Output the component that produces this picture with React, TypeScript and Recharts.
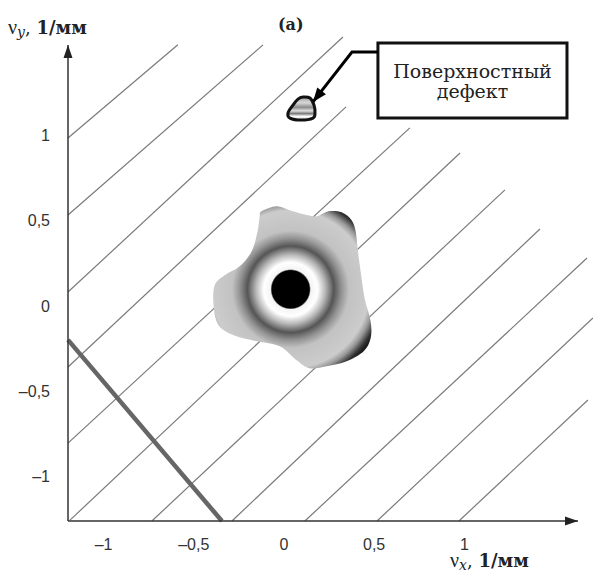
import React from 'react';
import { ScatterChart, XAxis, YAxis, Scatter, ReferenceLine, ReferenceArea } from 'recharts';

// axis ranges (ν, 1/мм)
const X_DOMAIN: [number, number] = [-1.197, 1.63];
const Y_DOMAIN: [number, number] = [-1.259, 1.527];
const xTicks = [-1, -0.5, 0, 0.5, 1];
const yTicks = [-1, -0.5, 0, 0.5, 1];

// diagonal fringe lines
const hatchLines = [
  { x1: -1.197, y1: 0.983, x2: -0.588, y2: 1.528 },
  { x1: -1.197, y1: 0.532, x2: -0.116, y2: 1.528 },
  { x1: -1.197, y1: 0.081, x2: 0.327, y2: 1.574 },
  { x1: -1.197, y1: -0.358, x2: 0.344, y2: 1.165 },
  { x1: -1.197, y1: -0.803, x2: 0.698, y2: 1.042 },
  { x1: -1.186, y1: -1.254, x2: 0.976, y2: 0.895 },
  { x1: -0.732, y1: -1.259, x2: 1.225, y2: 0.679 },
  { x1: -0.288, y1: -1.259, x2: 1.419, y2: 0.45 },
  { x1: 0.116, y1: -1.259, x2: 1.68, y2: 0.28 },
  { x1: 0.516, y1: -1.259, x2: 1.713, y2: -0.071 },
  { x1: 0.97, y1: -1.259, x2: 1.685, y2: -0.551 },
];

// thick gray line in the lower-left corner
const crossLine = { x1: -1.197, y1: -0.199, x2: -0.344, y2: -1.259 };

// spectrum centre and surface defect
const spectrum = [{ x: 0.037, y: 0.097 }];
const defects = [{ x: 0.1, y: 1.152 }];

// callout
const calloutBox = { x1: 0.521, x2: 1.569, y1: 1.1, y2: 1.539 };
const calloutPath = [
  { x: 0.521, y: 1.486 },
  { x: 0.377, y: 1.486 },
  { x: 0.161, y: 1.194 },
];
const calloutText = ['Поверхностный', 'дефект'];

// axis arrow tips
const axisTips = [
  { x: X_DOMAIN[1], y: Y_DOMAIN[0], dir: 'right' },
  { x: X_DOMAIN[0], y: Y_DOMAIN[1], dir: 'up' },
];

// outline of the spectrum blob, px offsets from its centre
const BLOB_OUTLINE: [number, number][] = [
  [-29, -78], [-14, -83], [-1, -79], [13, -75], [26, -73], [38, -78], [51, -77],
  [61, -69], [65, -58], [67, -41], [70, -18], [74, 9], [80, 32], [80, 49],
  [73, 62], [56, 72], [36, 77], [19, 79], [6, 71], [-11, 57], [-34, 52],
  [-57, 46], [-72, 36], [-77, 17], [-76, -4], [-66, -14], [-51, -23],
  [-39, -38], [-33, -58], [-31, -73],
];

const DEFECT_OUTLINE: [number, number][] = [
  [1, -12], [8, -11], [12, -4], [13, 4], [11, 9], [-1, 11], [-12, 9],
  [-14, 4], [-9, -4], [-4, -10],
];

const closedCurve = (pts: [number, number][]) => {
  const n = pts.length;
  let d = `M${pts[0][0]},${pts[0][1]}`;
  for (let i = 0; i < n; i++) {
    const p0 = pts[(i - 1 + n) % n];
    const p1 = pts[i];
    const p2 = pts[(i + 1) % n];
    const p3 = pts[(i + 2) % n];
    const c1x = p1[0] + (p2[0] - p0[0]) / 6;
    const c1y = p1[1] + (p2[1] - p0[1]) / 6;
    const c2x = p2[0] - (p3[0] - p1[0]) / 6;
    const c2y = p2[1] - (p3[1] - p1[1]) / 6;
    d += ` C${c1x},${c1y} ${c2x},${c2y} ${p2[0]},${p2[1]}`;
  }
  return d + 'Z';
};

const SpectrumShape = (props: any) => {
  const { cx, cy } = props;
  const d = closedCurve(BLOB_OUTLINE.map(([dx, dy]) => [cx + dx, cy + dy] as [number, number]));
  return (
    <g>
      <defs>
        <radialGradient id="specGrad" gradientUnits="userSpaceOnUse" cx={cx} cy={cy} r={96}>
          <stop offset="0" stopColor="#000" />
          <stop offset="0.195" stopColor="#000" />
          <stop offset="0.21" stopColor="#f4f4f4" />
          <stop offset="0.28" stopColor="#fff" />
          <stop offset="0.36" stopColor="#b8b8b8" />
          <stop offset="0.45" stopColor="#555" />
          <stop offset="0.53" stopColor="#939393" />
          <stop offset="0.61" stopColor="#c2c2c2" />
          <stop offset="0.82" stopColor="#cccccc" />
          <stop offset="0.88" stopColor="#999" />
          <stop offset="0.95" stopColor="#333" />
          <stop offset="1" stopColor="#111" />
        </radialGradient>
      </defs>
      <path d={d} fill="url(#specGrad)" />
    </g>
  );
};

const DefectShape = (props: any) => {
  const { cx, cy } = props;
  const d = closedCurve(DEFECT_OUTLINE.map(([dx, dy]) => [cx + dx, cy + dy] as [number, number]));
  return (
    <g>
      <defs>
        <linearGradient id="defGrad" x1="0" y1="0" x2="0" y2="1">
          <stop offset="0" stopColor="#9a9a9a" />
          <stop offset="0.25" stopColor="#d8d8d8" />
          <stop offset="0.45" stopColor="#8c8c8c" />
          <stop offset="0.6" stopColor="#e0e0e0" />
          <stop offset="0.72" stopColor="#7a7a7a" />
          <stop offset="0.84" stopColor="#fff" />
          <stop offset="1" stopColor="#ccc" />
        </linearGradient>
      </defs>
      <path d={d} fill="url(#defGrad)" stroke="#111" strokeWidth={3} />
    </g>
  );
};

const AxisTip = (props: any) => {
  const { cx, cy, payload } = props;
  const pts =
    payload.dir === 'right'
      ? `${cx},${cy} ${cx - 13},${cy - 4.5} ${cx - 13},${cy + 4.5}`
      : `${cx},${cy} ${cx - 4.5},${cy + 13} ${cx + 4.5},${cy + 13}`;
  return <polygon points={pts} fill="#222" />;
};

const CalloutTip = (props: any) => {
  const { cx, cy } = props;
  return (
    <polygon
      points={`${cx},${cy} ${cx - 14},${cy - 5.5} ${cx - 14},${cy + 5.5}`}
      fill="#000"
      transform={`rotate(128 ${cx} ${cy})`}
    />
  );
};

const renderCalloutLabel = (props: any) => {
  const { viewBox } = props;
  const cx = viewBox.x + viewBox.width / 2;
  const cy = viewBox.y + viewBox.height / 2;
  return (
    <text x={cx} y={cy} textAnchor="middle" fontFamily="DejaVu Serif" fontSize={19} fill="#222">
      <tspan x={cx} dy={-2.5}>{calloutText[0]}</tspan>
      <tspan x={cx} dy={20}>{calloutText[1]}</tspan>
    </text>
  );
};

const fmt = (v: number) => String(v).replace('.', ',').replace('-', '\u2013');

const tickStyle = { fontFamily: 'Liberation Sans', fontSize: 16, fill: '#333' };

const AxisTitle = ({ x, y, sub }: { x: number; y: number; sub: string }) => (
  <text x={x} y={y} fontFamily="DejaVu Serif" fontSize={18} fill="#222">
    <tspan fontFamily="Liberation Serif" fontSize={20}>ν</tspan>
    <tspan fontStyle="italic" fontSize={14} dy={3}>{sub}</tspan>
    <tspan dy={-3}>, </tspan>
    <tspan fontWeight="bold">1/мм</tspan>
  </text>
);

export default function App() {
  return (
    <div style={{ position: 'absolute', left: 0, top: 0, width: 593, height: 575, background: '#fff' }}>
      <ScatterChart width={593} height={575} margin={{ top: 45, right: 15, bottom: 24, left: 8 }}>
        <XAxis
          type="number"
          dataKey="x"
          domain={X_DOMAIN}
          ticks={xTicks}
          interval={0}
          tickFormatter={fmt}
          tick={tickStyle}
          tickLine={false}
          tickSize={0}
          tickMargin={18}
          height={30}
          axisLine={{ stroke: '#333', strokeWidth: 1.5 }}
        />
        <YAxis
          type="number"
          dataKey="y"
          domain={Y_DOMAIN}
          ticks={yTicks}
          interval={0}
          tickFormatter={fmt}
          tick={tickStyle}
          tickLine={false}
          tickSize={0}
          tickMargin={18}
          width={60}
          axisLine={{ stroke: '#333', strokeWidth: 1.5 }}
        />
        {hatchLines.map((l, i) => (
          <ReferenceLine
            key={i}
            segment={[{ x: l.x1, y: l.y1 }, { x: l.x2, y: l.y2 }]}
            stroke="#7a7a7a"
            strokeWidth={1.2}
            ifOverflow="visible"
          />
        ))}
        <ReferenceLine
          segment={[{ x: crossLine.x1, y: crossLine.y1 }, { x: crossLine.x2, y: crossLine.y2 }]}
          stroke="#666"
          strokeWidth={4.5}
          ifOverflow="visible"
        />
        <ReferenceArea
          x1={calloutBox.x1}
          x2={calloutBox.x2}
          y1={calloutBox.y1}
          y2={calloutBox.y2}
          fill="#fff"
          fillOpacity={1}
          stroke="#111"
          strokeWidth={3}
          ifOverflow="visible"
          label={renderCalloutLabel}
        />
        <Scatter data={spectrum} shape={SpectrumShape} isAnimationActive={false} />
        <Scatter data={defects} shape={DefectShape} isAnimationActive={false} />
        <Scatter
          data={calloutPath}
          line={{ stroke: '#000', strokeWidth: 3 }}
          lineType="joint"
          shape={() => <g />}
          isAnimationActive={false}
        />
        <Scatter data={calloutPath.slice(-1)} shape={CalloutTip} isAnimationActive={false} />
        <Scatter data={axisTips} shape={AxisTip} isAnimationActive={false} />
      </ScatterChart>
      <svg width={593} height={575} style={{ position: 'absolute', left: 0, top: 0, pointerEvents: 'none' }}>
        <AxisTitle x={8} y={34} sub="y" />
        <text x={278} y={30} fontFamily="DejaVu Serif" fontSize={16} fontWeight="bold" fill="#222">(a)</text>
        <AxisTitle x={450} y={567} sub="x" />
      </svg>
    </div>
  );
}
